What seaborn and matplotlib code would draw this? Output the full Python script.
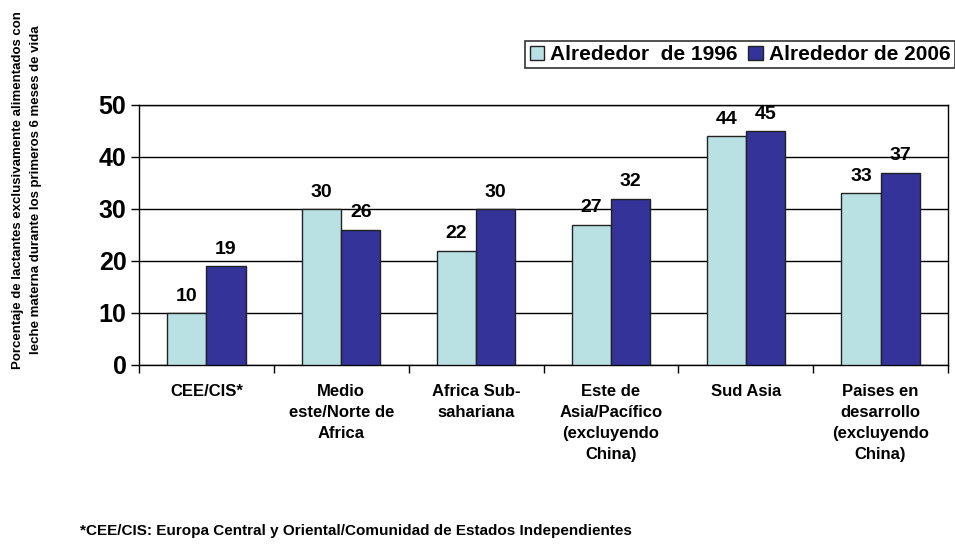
import pandas as pd
import seaborn as sns
from matplotlib import pyplot as plt
from matplotlib.ticker import FixedLocator

regiones = ["CEE/CIS*", "Medio\neste/Norte de\nAfrica", "Africa Sub-\nsahariana",
            "Este de\nAsia/Pacífico\n(excluyendo\nChina)", "Sud Asia",
            "Paises en\ndesarrollo\n(excluyendo\nChina)"]
series = ["Alrededor  de 1996", "Alrededor de 2006"]
valores_1996 = [10, 30, 22, 27, 44, 33]
valores_2006 = [19, 26, 30, 32, 45, 37]
colores = ["#B9E1E3", "#333399"]

df = pd.DataFrame({
    "region": regiones * 2,
    "serie": [series[0]] * len(regiones) + [series[1]] * len(regiones),
    "valor": valores_1996 + valores_2006,
})

sns.set_theme(style="white")
plt.rcParams["font.family"] = ["Liberation Sans", "DejaVu Sans"]
plt.rcParams["font.weight"] = "bold"
plt.rcParams["text.color"] = "black"
plt.rcParams["xtick.color"] = "black"
plt.rcParams["ytick.color"] = "black"

fig = plt.figure(figsize=(9.55, 5.44), dpi=100)
ax = fig.add_axes([139 / 955, 1 - 365 / 544, (948 - 139) / 955, (365 - 105) / 544])

sns.barplot(data=df, x="region", y="valor", hue="serie", palette=colores,
            saturation=1, width=0.58, edgecolor="#222222", linewidth=1, ax=ax, zorder=3)

for cont in ax.containers:
    ax.bar_label(cont, padding=6, fontsize=14, fontweight="bold", color="black")

ax.set_ylim(0, 50)
ax.set_xlim(-0.5, len(regiones) - 0.5)
ax.set_yticks(range(0, 51, 10))
ax.yaxis.grid(True, color="black", linewidth=1)
ax.set_axisbelow(True)
for s in ax.spines.values():
    s.set_visible(True)
    s.set_color("black")
    s.set_linewidth(1)

ax.tick_params(axis="y", which="major", length=6, width=1, color="black",
               direction="out", left=True, labelsize=18, pad=3)
ax.tick_params(axis="x", which="major", length=0, pad=14)
ax.xaxis.set_minor_locator(FixedLocator([i - 0.5 for i in range(len(regiones) + 1)]))
ax.tick_params(axis="x", which="minor", length=6, width=1, color="black",
               direction="out", bottom=True)
for lab in ax.get_yticklabels():
    lab.set_fontweight("bold")
for lab in ax.get_xticklabels():
    lab.set_fontsize(12)
    lab.set_fontweight("bold")
    lab.set_linespacing(1.5)
ax.set_xlabel("")
ax.set_ylabel("")

ax.get_legend().remove()
handles = [plt.Rectangle((0, 0), 1, 1, facecolor=c, edgecolor="#222222", linewidth=1)
           for c in colores]
leg = fig.legend(handles, series, loc="upper right", bbox_to_anchor=(1.0, 1 - 41 / 544),
                 ncol=2, frameon=True, fancybox=False, edgecolor="black",
                 prop={"weight": "bold", "size": 15}, handlelength=0.7,
                 handleheight=0.7, handletextpad=0.3, columnspacing=0.5,
                 borderpad=0.2, borderaxespad=0)
leg.get_frame().set_linewidth(1.2)

fig.text(27 / 955, 1 - 190 / 544,
         "Porcentaje de lactantes exclusivamente alimentados con\n"
         "leche materna durante los primeros 6 meses de vida",
         rotation=90, ha="center", va="center", fontsize=9.5, fontweight="bold",
         linespacing=1.75)

fig.text(80 / 955, 1 - 531 / 544,
         "*CEE/CIS: Europa Central y Oriental/Comunidad de Estados Independientes",
         ha="left", va="center", fontsize=11, fontweight="bold")

fig.savefig("out.png", dpi=100, facecolor="white")
